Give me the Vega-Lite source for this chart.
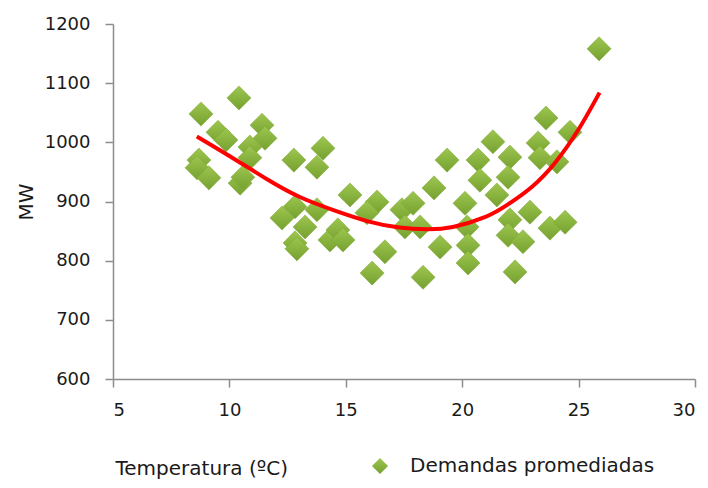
{
  "$schema": "https://vega.github.io/schema/vega-lite/v6.json",
  "width": 582,
  "height": 355,
  "autosize": {"type": "none"},
  "padding": {"left": 113, "top": 24, "right": 13, "bottom": 109},
  "background": "white",
  "config": {
    "view": {"stroke": null},
    "font": "DejaVu Sans",
    "axis": {"grid": false, "domainColor": "#8c8c8c", "tickColor": "#8c8c8c", "domainWidth": 1.5, "tickWidth": 1.5, "tickSize": 8, "labelFont": "DejaVu Sans", "labelFontSize": 18, "labelColor": "#1a1a1a", "titleFont": "DejaVu Sans", "titleFontWeight": "normal", "titleColor": "#1a1a1a"}
  },
  "datasets": {
    "pts": [
      {"t": 8.78, "mw": 1048}, {"t": 10.41, "mw": 1075}, {"t": 9.51, "mw": 1017}, {"t": 9.85, "mw": 1004},
      {"t": 11.40, "mw": 1029}, {"t": 11.53, "mw": 1007}, {"t": 10.88, "mw": 992}, {"t": 10.88, "mw": 974},
      {"t": 8.69, "mw": 970}, {"t": 8.61, "mw": 957}, {"t": 9.12, "mw": 940}, {"t": 10.46, "mw": 931},
      {"t": 10.58, "mw": 941}, {"t": 12.77, "mw": 970}, {"t": 14.02, "mw": 990}, {"t": 13.76, "mw": 958},
      {"t": 12.26, "mw": 872}, {"t": 12.82, "mw": 891}, {"t": 13.25, "mw": 857}, {"t": 12.82, "mw": 830},
      {"t": 12.9, "mw": 820}, {"t": 13.76, "mw": 886}, {"t": 14.32, "mw": 835}, {"t": 14.66, "mw": 852},
      {"t": 14.88, "mw": 835}, {"t": 15.18, "mw": 911}, {"t": 16.34, "mw": 899}, {"t": 15.91, "mw": 881},
      {"t": 16.68, "mw": 815}, {"t": 16.13, "mw": 779}, {"t": 19.35, "mw": 970}, {"t": 20.68, "mw": 970},
      {"t": 20.76, "mw": 936}, {"t": 18.79, "mw": 923}, {"t": 17.41, "mw": 886}, {"t": 17.89, "mw": 897},
      {"t": 17.54, "mw": 857}, {"t": 18.19, "mw": 857}, {"t": 20.12, "mw": 897}, {"t": 20.21, "mw": 857},
      {"t": 19.05, "mw": 823}, {"t": 20.25, "mw": 826}, {"t": 20.25, "mw": 796}, {"t": 18.32, "mw": 772},
      {"t": 23.60, "mw": 1041}, {"t": 24.63, "mw": 1017}, {"t": 21.32, "mw": 1001}, {"t": 22.05, "mw": 975},
      {"t": 23.26, "mw": 999}, {"t": 23.34, "mw": 974}, {"t": 24.07, "mw": 967}, {"t": 21.97, "mw": 941},
      {"t": 21.49, "mw": 911}, {"t": 22.91, "mw": 882}, {"t": 22.05, "mw": 869}, {"t": 21.97, "mw": 843},
      {"t": 22.61, "mw": 832}, {"t": 23.77, "mw": 855}, {"t": 24.42, "mw": 865}, {"t": 22.27, "mw": 781},
      {"t": 25.88, "mw": 1158}
    ],
    "trend": [
      {"t": 8.6, "mw": 1010}, {"t": 10.0, "mw": 977}, {"t": 11.6, "mw": 938},
      {"t": 13.0, "mw": 908}, {"t": 14.5, "mw": 885}, {"t": 16.0, "mw": 866}, {"t": 17.3, "mw": 856},
      {"t": 18.5, "mw": 853}, {"t": 19.6, "mw": 857}, {"t": 21.0, "mw": 874}, {"t": 22.0, "mw": 896},
      {"t": 23.0, "mw": 925}, {"t": 24.0, "mw": 966}, {"t": 25.0, "mw": 1022},
      {"t": 25.9, "mw": 1084}
    ]
  },
  "layer": [
    {
      "data": {"name": "pts"},
      "mark": {"type": "point", "shape": "diamond", "filled": true, "size": 580, "opacity": 1,
        "fill": {"gradient": "linear", "x1": 0, "y1": 0, "x2": 0, "y2": 1, "stops": [{"offset": 0, "color": "#9cc64e"}, {"offset": 1, "color": "#76a130"}]},
        "stroke": "#7ea536", "strokeWidth": 0.5},
      "encoding": {
        "x": {"field": "t", "type": "quantitative", "scale": {"domain": [5, 30], "nice": false, "zero": false},
          "axis": {"values": [5, 10, 15, 20, 25, 30], "labelPadding": 14, "title": "Temperatura (ºC)", "titleFontSize": 20, "titleAnchor": "start", "titleAlign": "left", "titleX": 2, "titleY": 95, "titleBaseline": "alphabetic"}},
        "y": {"field": "mw", "type": "quantitative", "scale": {"domain": [600, 1200], "nice": false, "zero": false},
          "axis": {"values": [600, 700, 800, 900, 1000, 1100, 1200], "format": "d", "labelPadding": 15, "title": "MW", "titleFontSize": 20, "titlePadding": 8}},
        "shape": {"datum": "Demandas promediadas", "type": "nominal", "scale": {"range": ["diamond"]},
          "legend": {"title": null, "orient": "none", "legendX": 257, "legendY": 432, "symbolSize": 260, "symbolFillColor": "#89b43d", "symbolStrokeWidth": 0, "labelFontSize": 20, "labelLimit": 400, "labelFont": "DejaVu Sans", "labelColor": "#1a1a1a", "labelOffset": 20}}
      }
    },
    {
      "data": {"name": "trend"},
      "mark": {"type": "line", "color": "#ff0000", "strokeWidth": 4, "interpolate": "natural"},
      "encoding": {
        "x": {"field": "t", "type": "quantitative"},
        "y": {"field": "mw", "type": "quantitative"}
      }
    }
  ]
}
